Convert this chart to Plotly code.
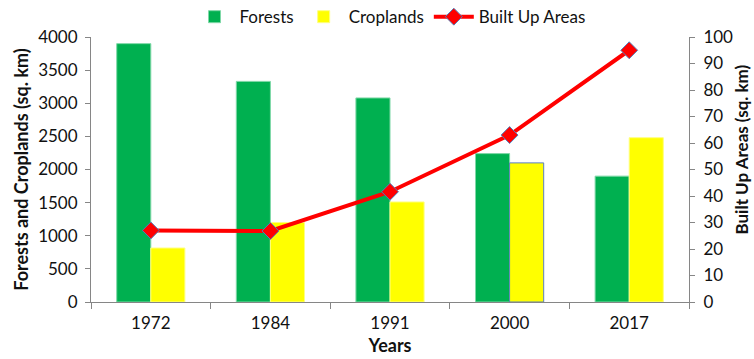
import plotly.graph_objects as go

years = ["1972", "1984", "1991", "2000", "2017"]
forests = [3900, 3330, 3080, 2240, 1900]
croplands = [815, 1200, 1510, 2100, 2480]
built_up = [27.0, 26.8, 41.6, 63.0, 95.0]

FONT = "Lato, 'Open Sans', sans-serif"
AXIS_GRAY = "#868686"
TEXT = "#111111"

fig = go.Figure()

fig.add_trace(go.Bar(
    x=years, y=forests, name="Forests",
    marker=dict(color="#00B050", line=dict(color="#7fd8a7", width=1)),
    yaxis="y",
))
fig.add_trace(go.Bar(
    x=years, y=croplands, name="Croplands",
    marker=dict(color="#FFFF00",
                line=dict(color=["#ffff80", "#ffff80", "#ffff80", "#5b7fbf", "#ffff80"], width=1)),
    yaxis="y",
))
fig.add_trace(go.Scatter(
    x=years, y=built_up, name="Built Up Areas",
    mode="lines+markers",
    line=dict(color="#FF0000", width=4),
    marker=dict(symbol="diamond", size=13, color="#FF0000",
                line=dict(color="#4F81BD", width=1)),
    yaxis="y2",
))

# right-hand axis title, placed by hand near the page edge
fig.add_annotation(
    text="<b>Built Up Areas (sq. km)</b>", textangle=-90,
    xref="paper", yref="paper", x=1.088, y=0.574,
    xanchor="center", yanchor="middle", showarrow=False,
    font=dict(family=FONT, size=17, color=TEXT),
)

fig.update_layout(
    width=754, height=359,
    margin=dict(l=91, r=65, t=37, b=57, autoexpand=False),
    paper_bgcolor="white", plot_bgcolor="white",
    font=dict(family=FONT, size=17, color=TEXT),
    barmode="group", bargap=0.43, bargroupgap=0,
    showlegend=True,
    legend=dict(orientation="h", x=0.5, xanchor="center", y=1.075, yanchor="middle",
                font=dict(size=17), itemwidth=40, traceorder="normal",
                bgcolor="rgba(0,0,0,0)"),
    xaxis=dict(
        type="category", showline=True, linecolor=AXIS_GRAY, linewidth=1,
        ticks="outside", tickson="boundaries", ticklen=6, tickcolor=AXIS_GRAY,
        showgrid=False, automargin=False, ticklabelstandoff=6,
        title=dict(text="<b>Years</b>", font=dict(size=18), standoff=6),
    ),
    yaxis=dict(
        range=[0, 4000], dtick=500, showline=True, linecolor=AXIS_GRAY, linewidth=1,
        ticks="outside", ticklen=5, tickcolor=AXIS_GRAY, showgrid=False, zeroline=False,
        automargin=False, ticklabelstandoff=4,
        title=dict(text="<b>Forests and Croplands (sq. km)</b>", font=dict(size=18), standoff=4),
    ),
    yaxis2=dict(
        range=[0, 100], dtick=10, overlaying="y", side="right",
        showline=True, linecolor=AXIS_GRAY, linewidth=1,
        ticks="outside", ticklen=5, tickcolor=AXIS_GRAY, showgrid=False, zeroline=False,
        automargin=False, ticklabelstandoff=5,
    ),
)

fig.write_html("out.html")
